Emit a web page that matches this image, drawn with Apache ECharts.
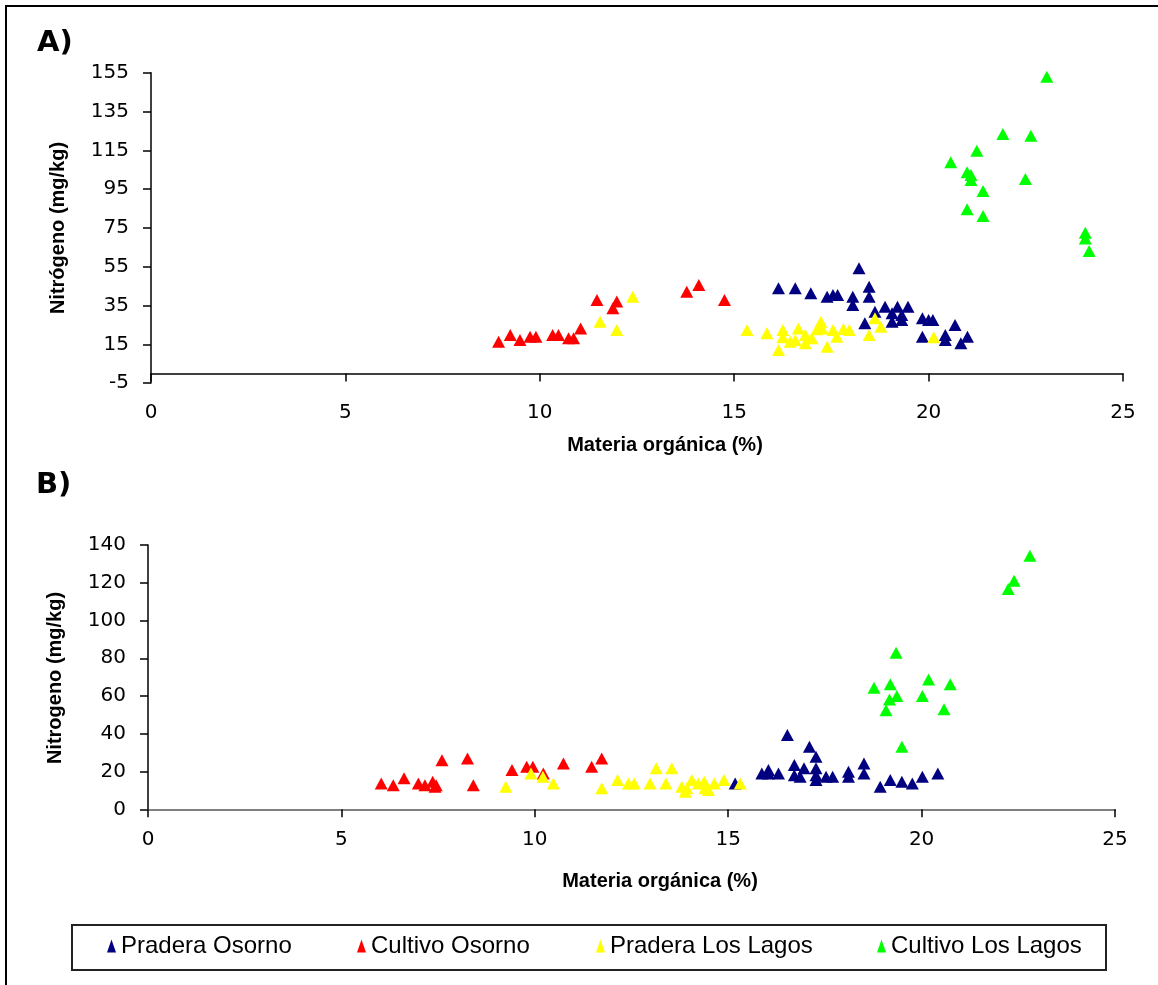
<!DOCTYPE html>
<html>
<head>
<meta charset="utf-8">
<script src="https://cdn.jsdelivr.net/npm/echarts@6/dist/echarts.min.js"></script>
<style>
html,body{margin:0;padding:0;background:#fff;}
#chart{width:1158px;height:985px;}
</style>
</head>
<body>
<div id="chart"></div>
<script>
// ---- Data (Materia orgánica %, Nitrógeno mg/kg) ----
const seriesNames = ['Pradera Osorno', 'Cultivo Osorno', 'Pradera Los Lagos', 'Cultivo Los Lagos'];
const seriesColors = ['#000080', '#FF0000', '#FFFF00', '#00FF00'];

// Panel A
const aPraderaOsorno = [[16.14,43.9],[16.57,43.9],[16.97,41.3],[17.39,39.5],[17.54,40.4],[17.66,40.4],[18.21,54.2],[18.05,39.5],[18.05,35.3],[18.47,44.7],[18.47,39.5],[18.36,25.8],[18.62,31.8],[18.88,34.4],[19.06,31.0],[19.06,26.6],[19.2,34.4],[19.31,30.1],[19.31,27.5],[19.47,34.4],[19.84,28.4],[20.0,27.5],[20.11,27.5],[19.84,18.9],[20.43,19.8],[20.43,17.2],[20.68,24.9],[21.0,18.9],[20.83,15.5]];
const aCultivoOsorno = [[8.94,16.3],[9.24,19.8],[9.49,17.2],[9.75,18.9],[9.9,18.9],[10.33,19.8],[10.48,19.8],[10.74,18.1],[10.87,18.1],[11.05,23.2],[11.47,37.8],[11.98,37.0],[11.88,33.6],[13.78,42.1],[14.09,45.6],[14.75,37.8]];
const aPraderaLosLagos = [[11.55,26.6],[11.98,22.4],[12.39,39.5],[15.33,22.4],[15.84,20.7],[16.25,22.4],[16.14,12.1],[16.25,18.6],[16.44,16.3],[16.57,17.2],[16.65,23.2],[16.83,19.8],[16.83,15.5],[17.0,18.1],[17.13,22.7],[17.23,26.6],[17.26,23.2],[17.39,13.8],[17.54,22.4],[17.64,18.9],[17.81,22.9],[17.96,22.4],[18.47,19.8],[18.62,28.4],[18.77,24.1],[20.13,18.6]];
const aCultivoLosLagos = [[23.04,152.9],[21.91,123.4],[22.63,122.5],[21.24,114.8],[20.57,108.8],[20.99,103.7],[21.09,102.3],[21.09,99.7],[22.49,100.2],[21.4,94.0],[20.99,84.6],[21.4,81.1],[24.03,72.5],[24.03,69.6],[24.13,63.1]];

// Panel B
const bPraderaOsorno = [[15.18,13.7],[15.87,19.0],[16.04,20.8],[16.04,19.0],[16.3,19.0],[16.53,39.3],[16.71,23.4],[16.71,18.1],[16.86,17.2],[16.96,21.7],[17.1,33.1],[17.27,27.8],[17.27,21.7],[17.27,18.1],[17.27,15.5],[17.53,17.2],[17.7,17.2],[18.11,19.9],[18.11,17.2],[18.51,24.3],[18.51,19.0],[18.93,11.9],[19.19,15.5],[19.49,14.6],[19.76,13.7],[20.02,17.2],[20.42,19.0]];
const bCultivoOsorno = [[6.03,13.7],[6.34,12.8],[6.62,16.4],[6.99,13.7],[7.16,12.8],[7.36,14.6],[7.45,12.8],[7.42,11.9],[7.6,26.0],[8.26,26.9],[8.41,12.8],[9.41,20.8],[9.79,22.5],[9.95,22.5],[10.22,19.0],[10.74,24.3],[11.47,22.5],[11.73,26.9]];
const bPraderaLosLagos = [[9.25,11.9],[9.9,19.0],[10.21,17.2],[10.48,13.7],[11.73,11.1],[12.14,15.5],[12.42,13.7],[12.57,13.7],[12.98,13.7],[13.14,21.7],[13.39,13.7],[13.54,21.7],[13.8,11.9],[13.89,9.3],[13.93,11.1],[14.06,15.5],[14.23,13.7],[14.38,14.6],[14.4,11.1],[14.49,10.2],[14.64,13.7],[14.89,15.5],[15.31,13.7]];
const bCultivoLosLagos = [[22.8,134.3],[22.39,121.1],[22.24,116.7],[19.34,82.9],[18.77,64.4],[19.19,66.2],[19.36,60.0],[19.17,58.1],[19.08,52.5],[20.18,68.8],[20.02,60.0],[20.74,66.2],[20.58,53.0],[19.49,33.1]];

// Axis ticks
const xTicks = [0, 5, 10, 15, 20, 25];
const aYTicks = [-5, 15, 35, 55, 75, 95, 115, 135, 155];
const bYTicks = [0, 20, 40, 60, 80, 100, 120, 140];

const panelA = [aPraderaOsorno, aCultivoOsorno, aPraderaLosLagos, aCultivoLosLagos];
const panelB = [bPraderaOsorno, bCultivoOsorno, bPraderaLosLagos, bCultivoLosLagos];

// ---- Chart ----
const chart = echarts.init(document.getElementById('chart'), null, {renderer: 'canvas'});

const tickFont = {fontFamily: 'DejaVu Sans', fontSize: 20, color: '#000'};

function xAxisDef(gridIndex, lineColor, lineWidth) {
  return {
    type: 'value', gridIndex: gridIndex,
    min: xTicks[0], max: xTicks[xTicks.length - 1], interval: xTicks[1] - xTicks[0],
    splitLine: {show: false},
    axisLine: {show: true, onZero: true, lineStyle: {color: lineColor, width: lineWidth}},
    axisTick: {show: true, length: 8, lineStyle: {color: '#000', width: 1.5}},
    axisLabel: Object.assign({margin: 20}, tickFont)
  };
}
function yAxisDef(gridIndex, ticks) {
  return {
    type: 'value', gridIndex: gridIndex,
    min: ticks[0], max: ticks[ticks.length - 1], interval: ticks[1] - ticks[0],
    splitLine: {show: false},
    axisLine: {show: true, onZero: false, lineStyle: {color: '#000', width: 1.5}},
    axisTick: {show: true, length: 8, lineStyle: {color: '#000', width: 1.5}},
    axisLabel: Object.assign({margin: 22}, tickFont)
  };
}

const series = [];
seriesNames.forEach((name, i) => {
  series.push({
    name: name, type: 'scatter', xAxisIndex: 0, yAxisIndex: 0,
    data: panelA[i], symbol: 'triangle', symbolSize: [13, 12],
    itemStyle: {color: seriesColors[i], opacity: 1},
    emphasis: {disabled: true}, z: 2 + i
  });
});
seriesNames.forEach((name, i) => {
  series.push({
    name: name, type: 'scatter', xAxisIndex: 1, yAxisIndex: 1,
    data: panelB[i], symbol: 'triangle', symbolSize: [13, 12],
    itemStyle: {color: seriesColors[i], opacity: 1},
    emphasis: {disabled: true}, z: 2 + i
  });
});

const legendLefts = [107, 357, 596, 877];
const legends = seriesNames.map((name, i) => ({
  data: [name], left: legendLefts[i], top: 934, padding: 0,
  icon: 'triangle', itemWidth: 9, itemHeight: 13, itemGap: 5,
  selectedMode: true,
  textStyle: {fontFamily: 'Liberation Sans', fontSize: 24, color: '#000', padding: [0, 0, 0, 0]}
}));

const titleBold = {fontFamily: 'Liberation Sans', fontWeight: 'bold', fontSize: 20, fill: '#000'};

chart.setOption({
  animation: false,
  backgroundColor: '#fff',
  grid: [
    {left: 151, top: 72.7, width: 972, height: 310.4, containLabel: false},
    {left: 148, top: 545, width: 967, height: 264.3, containLabel: false}
  ],
  xAxis: [xAxisDef(0, '#000', 1.5), xAxisDef(1, '#808080', 2)],
  yAxis: [yAxisDef(0, aYTicks), yAxisDef(1, bYTicks)],
  legend: legends,
  series: series,
  graphic: [
    {type: 'rect', shape: {x: 6, y: 6, width: 1170, height: 1000}, style: {fill: 'none', stroke: '#000', lineWidth: 2}, silent: true, z: 0},
    {type: 'rect', shape: {x: 72, y: 925, width: 1034, height: 45}, style: {fill: '#fff', stroke: '#222', lineWidth: 2}, silent: true, z: -1},
    {type: 'text', left: 37, top: 29, style: {text: 'A)', fontFamily: 'DejaVu Sans', fontWeight: 'bold', fontSize: 29, fill: '#000'}, silent: true},
    {type: 'text', left: 36, top: 471, style: {text: 'B)', fontFamily: 'DejaVu Sans', fontWeight: 'bold', fontSize: 29, fill: '#000'}, silent: true},
    {type: 'text', x: 665, y: 445, style: Object.assign({text: 'Materia orgánica (%)', align: 'center', verticalAlign: 'middle'}, titleBold), silent: true},
    {type: 'text', x: 660, y: 881, style: Object.assign({text: 'Materia orgánica (%)', align: 'center', verticalAlign: 'middle'}, titleBold), silent: true},
    {type: 'text', x: 58, y: 228, rotation: Math.PI / 2, style: Object.assign({text: 'Nitrógeno (mg/kg)', align: 'center', verticalAlign: 'middle'}, titleBold), silent: true},
    {type: 'text', x: 55, y: 678, rotation: Math.PI / 2, style: Object.assign({text: 'Nitrogeno (mg/kg)', align: 'center', verticalAlign: 'middle'}, titleBold), silent: true}
  ]
});
</script>
</body>
</html>
